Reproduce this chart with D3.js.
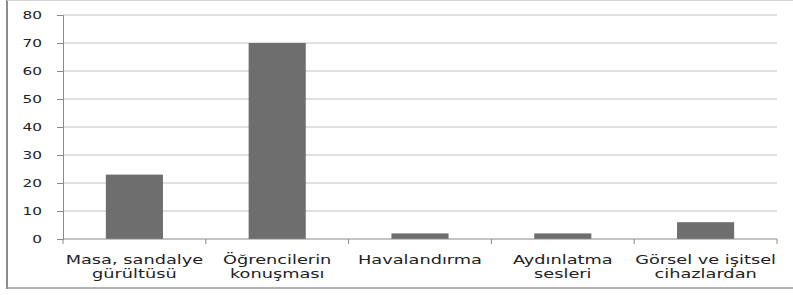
<!DOCTYPE html>
<html>
<head>
<meta charset="utf-8">
<script src="https://cdn.jsdelivr.net/npm/d3@7/dist/d3.min.js"></script>
<style>
  html, body { margin: 0; padding: 0; background: #fff; }
  svg { display: block; }
</style>
</head>
<body>
<svg width="793" height="295"></svg>
<script>
var categories = [
  ['Masa, sandalye', 'gürültüsü'],
  ['Öğrencilerin', 'konuşması'],
  ['Havalandırma'],
  ['Aydınlatma', 'sesleri'],
  ['Görsel ve işitsel', 'cihazlardan']
];
var values = [23, 70, 2, 2, 6];
var yTicks = [0, 10, 20, 30, 40, 50, 60, 70, 80];

function drawChart() {
  'use strict';
  var svg = d3.select('svg');
  var margin = {top: 15, left: 63, right: 16, bottom: 56};
  var w = 793, h = 295;
  var width = w - margin.left - margin.right;
  var height = h - margin.top - margin.bottom;

  // outer frame, left and top and bottom only (the picture is cut on the right)
  svg.append('line')
    .attr('x1', 7).attr('x2', 7).attr('y1', 0).attr('y2', 289)
    .attr('stroke', '#8c8c8c').attr('stroke-width', 2);
  svg.append('line')
    .attr('x1', 7).attr('x2', 793).attr('y1', 0.5).attr('y2', 0.5)
    .attr('stroke', '#d4d4d4').attr('stroke-width', 1);
  svg.append('line')
    .attr('x1', 6).attr('x2', 793).attr('y1', 288).attr('y2', 288)
    .attr('stroke', '#9a9a9a').attr('stroke-width', 1.5);

  var g = svg.append('g')
    .attr('transform', 'translate(' + [margin.left, margin.top] + ')');

  var x = d3.scaleBand()
    .domain(d3.range(categories.length))
    .range([0, width])
    .paddingInner(0.6)
    .paddingOuter(0.3);

  var y = d3.scaleLinear().domain([0, 80]).range([height, 0]);

  // gridlines
  g.selectAll('.grid').data(yTicks.filter(function (d) { return d > 0; }))
    .enter().append('line')
    .attr('class', 'grid')
    .attr('x1', 0).attr('x2', width)
    .attr('y1', function (d) { return y(d); })
    .attr('y2', function (d) { return y(d); })
    .attr('stroke', '#d6d6d6')
    .attr('stroke-width', 1.6);

  // y axis
  var yAxis = d3.axisLeft(y).tickValues(yTicks).tickSize(6).tickFormat('');
  var ya = g.append('g').call(yAxis);
  ya.select('.domain').attr('stroke', '#8a8a8a');
  ya.selectAll('.tick line').attr('stroke', '#8a8a8a');

  ya.selectAll('.ylab').data(yTicks).enter()
    .append('g')
    .attr('transform', function (d) { return 'translate(' + [-21, y(d) + 3.5] + ') scale(1.6,1)'; })
    .append('text')
    .attr('text-anchor', 'end')
    .style('font-family', 'DejaVu Sans')
    .style('font-size', '9.6px')
    .style('fill', '#222')
    .text(function (d) { return d; });

  // bars
  g.selectAll('.bar').data(values).enter()
    .append('rect')
    .attr('class', 'bar')
    .attr('x', function (d, i) { return x(i); })
    .attr('width', x.bandwidth())
    .attr('y', function (d) { return y(d); })
    .attr('height', function (d) { return height - y(d); })
    .attr('fill', '#6e6e6e');

  // x axis with ticks between categories
  var bounds = d3.range(categories.length + 1).map(function (i) { return i * width / categories.length; });
  g.append('line')
    .attr('x1', 0).attr('x2', width)
    .attr('y1', height).attr('y2', height)
    .attr('stroke', '#8a8a8a');
  g.selectAll('.xtick').data(bounds).enter()
    .append('line')
    .attr('x1', function (d) { return d; }).attr('x2', function (d) { return d; })
    .attr('y1', height).attr('y2', height + 5)
    .attr('stroke', '#8a8a8a');

  var labels = g.selectAll('.xlab').data(categories).enter()
    .append('g')
    .attr('transform', function (d, i) {
      return 'translate(' + [x(i) + x.bandwidth() / 2, height + 25] + ') scale(1.42,1)';
    });
  labels.selectAll('text').data(function (d) { return d; }).enter()
    .append('text')
    .attr('text-anchor', 'middle')
    .attr('y', function (d, i) { return i * 14.5; })
    .style('font-family', 'DejaVu Sans')
    .style('font-size', '12.5px')
    .style('fill', '#222')
    .text(function (d) { return d; });
}

drawChart();
</script>
</body>
</html>
